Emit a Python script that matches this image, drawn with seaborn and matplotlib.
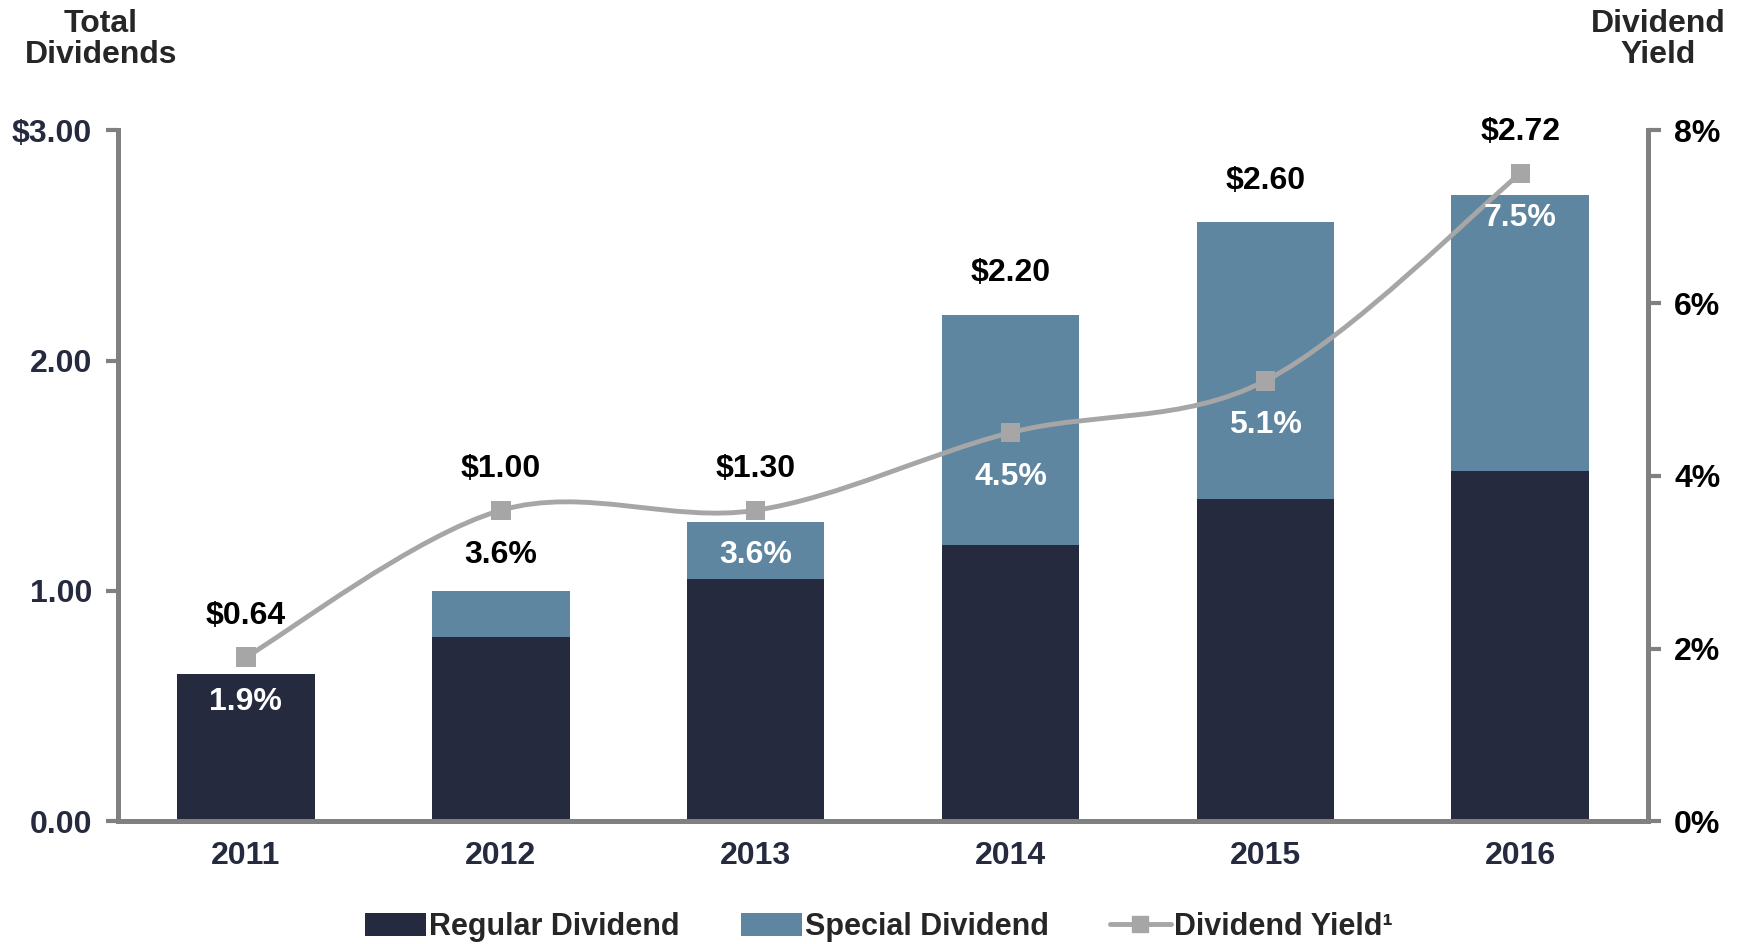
import numpy as np
import pandas as pd
import matplotlib
matplotlib.use("Agg")
import matplotlib.pyplot as plt
from matplotlib.path import Path
from matplotlib.patches import PathPatch, Patch
from matplotlib.lines import Line2D
from matplotlib import font_manager
import seaborn as sns

# data
years = ['2011', '2012', '2013', '2014', '2015', '2016']
regular = [0.64, 0.80, 1.05, 1.20, 1.40, 1.52]
special = [0.00, 0.20, 0.25, 1.00, 1.20, 1.20]
total_labels = ['$0.64', '$1.00', '$1.30', '$2.20', '$2.60', '$2.72']
yield_pct = [1.9, 3.6, 3.6, 4.5, 5.1, 7.5]
left_ticks = [0, 1, 2, 3]
left_ticklabels = ['0.00', '1.00', '2.00', '$3.00']
right_ticks = [0, 2, 4, 6, 8]
right_ticklabels = ['0%', '2%', '4%', '6%', '8%']

navy = '#252A3E'
steel = '#5F86A0'
grey_line = '#A6A6A6'
spine_grey = '#808080'
fs = 23

sns.set_style('white')
plt.rcParams['font.family'] = ['Liberation Sans', 'DejaVu Sans']
plt.rcParams['font.weight'] = 'bold'

names = {f.name for f in font_manager.fontManager.ttflist}
narrow = 'Liberation Sans Narrow' if 'Liberation Sans Narrow' in names else 'Liberation Sans'

df = pd.DataFrame({'year': years, 'regular': regular, 'special': special})
df['total'] = df['regular'] + df['special']

fig = plt.figure(figsize=(17.4, 9.44), dpi=100)
ax = fig.add_axes([0.068, 0.130, 0.879, 0.732])

# stacked bars: total in special colour, regular drawn on top
sns.barplot(data=df, x='year', y='total', color=steel, saturation=1, width=0.54,
            linewidth=0, ax=ax)
sns.barplot(data=df, x='year', y='regular', color=navy, saturation=1, width=0.54,
            linewidth=0, ax=ax)

ax.set_xlim(-0.5, 5.5)
ax.set_ylim(0, 3)
ax.set_xlabel('')
ax.set_ylabel('')
ax.set_yticks(left_ticks)
ax.set_yticklabels(left_ticklabels)
ax.tick_params(axis='y', direction='out', length=9, width=3, color=spine_grey,
               labelsize=fs, labelcolor=navy, pad=10, left=True)
ax.tick_params(axis='x', length=0, labelsize=fs, labelcolor=navy, pad=14)
for lab in ax.get_xticklabels() + ax.get_yticklabels():
    lab.set_fontweight('bold')
for s in ['left', 'bottom', 'right']:
    ax.spines[s].set_color(spine_grey)
    ax.spines[s].set_linewidth(3.5)
ax.spines['top'].set_visible(False)

# yield line on a second axis
ax2 = ax.twinx()
ax2.set_ylim(0, 8)
ax2.set_yticks(right_ticks)
ax2.set_yticklabels(right_ticklabels)
ax2.tick_params(axis='y', direction='out', length=9, width=3, color=spine_grey,
                labelsize=fs, labelcolor='black', pad=10)
for lab in ax2.get_yticklabels():
    lab.set_fontweight('bold')
for s in ['left', 'bottom', 'right']:
    ax2.spines[s].set_color(spine_grey)
    ax2.spines[s].set_linewidth(3.5)
ax2.spines['top'].set_visible(False)

# smoothed line (Catmull-Rom style bezier through the points)
xs = np.arange(len(years), dtype=float)
ys = np.array(yield_pct)
pts = np.column_stack([xs, ys])
verts = [pts[0]]
codes = [Path.MOVETO]
for i in range(len(pts) - 1):
    p0 = pts[max(i - 1, 0)]
    p1 = pts[i]
    p2 = pts[i + 1]
    p3 = pts[min(i + 2, len(pts) - 1)]
    c1 = p1 + (p2 - p0) / 6
    c2 = p2 - (p3 - p1) / 6
    verts += [c1, c2, p2]
    codes += [Path.CURVE4] * 3
ax2.add_patch(PathPatch(Path(verts, codes), facecolor='none', edgecolor=grey_line,
                        lw=3.5, zorder=3))
sns.scatterplot(x=xs, y=ys, marker='s', s=200, color=grey_line, edgecolor='none',
                ax=ax2, zorder=4, legend=False)

# labels
for i in range(len(years)):
    tot = regular[i] + special[i]
    yl = yield_pct[i] * 3 / 8
    ax.text(i, max(tot, yl) + 0.18, total_labels[i], ha='center', va='center',
            fontsize=fs, fontweight='bold', color='black')
    inside = (yl - 0.19) < tot
    ax2.annotate(f'{yield_pct[i]:.1f}%', (i, yield_pct[i]), xytext=(0, -32),
                 textcoords='offset points', ha='center', va='center',
                 fontsize=fs, fontweight='bold', color='white' if inside else 'black')

fig.text(0.058, 0.958, 'Total\nDividends', ha='center', va='center', fontsize=fs,
         fontweight='bold', linespacing=1.05)
fig.text(0.953, 0.958, 'Dividend\nYield', ha='center', va='center', fontsize=fs,
         fontweight='bold', linespacing=1.05)

handles = [Patch(facecolor=navy, edgecolor='none'),
           Patch(facecolor=steel, edgecolor='none'),
           Line2D([0], [0], color=grey_line, lw=3.5, marker='s', markersize=12)]
leg = fig.legend(handles, ['Regular Dividend', 'Special Dividend', 'Dividend Yield\u00b9'],
                 loc='center', bbox_to_anchor=(0.505, 0.018), ncol=3, frameon=False,
                 prop={'family': narrow, 'weight': 'bold', 'size': 22},
                 handlelength=2.0, handleheight=0.8, handletextpad=0.1, columnspacing=2.0)

fig.savefig('out.png', dpi=100)
